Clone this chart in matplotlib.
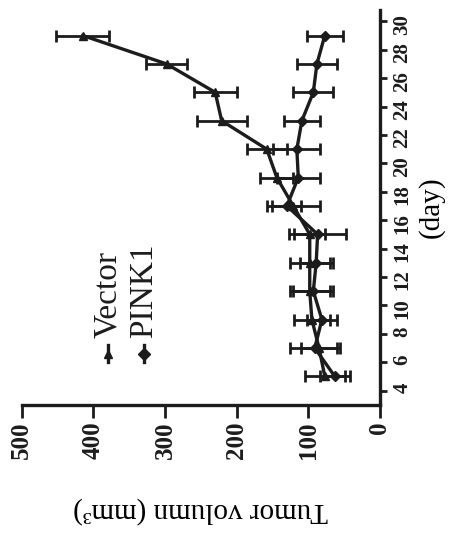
import matplotlib
matplotlib.use("Agg")
import matplotlib.pyplot as plt

plt.rcParams["font.family"] = ["Liberation Serif", "DejaVu Serif"]

# Measurement days and tumour volumes (mm^3), mean and error
days = [5, 7, 9, 11, 13, 15, 17, 19, 21, 23, 25, 27, 29]
vector_mean = [77, 85, 95, 98, 98, 98, 121, 144, 158, 221, 230, 298, 415]
vector_err = [28, 25, 25, 28, 28, 22, 37, 23, 28, 35, 30, 28, 37]
pink1_mean = [63, 91, 81, 93, 89, 87, 130, 114, 116, 109, 93, 88, 77]
pink1_err = [21, 35, 21, 28, 23, 40, 20, 30, 33, 25, 28, 28, 25]

day_ticks = [4, 6, 8, 10, 12, 14, 16, 18, 20, 22, 24, 26, 28, 30]
volume_ticks = [0, 100, 200, 300, 400, 500]
series_names = ["Vector", "PINK1"]

ink = "#1c1c1c"

fig = plt.figure(figsize=(4.55, 5.53), dpi=100)
ax = fig.add_axes([0.048, 0.268, 0.787, 0.714])

# The chart is laid on its side: volume runs right-to-left, days bottom-to-top
ax.errorbar(vector_mean, days, xerr=vector_err, color=ink, lw=2.4,
            marker="^", ms=6, capsize=4, capthick=2, elinewidth=2)
ax.errorbar(pink1_mean, days, xerr=pink1_err, color=ink, lw=2.4,
            marker="D", ms=5, capsize=4, capthick=2, elinewidth=2)

ax.set_xlim(500, 0)
ax.set_ylim(3, 30.8)
ax.set_xticks(volume_ticks)
ax.set_yticks(day_ticks)
ax.yaxis.tick_right()
ax.yaxis.set_label_position("right")

for side in ("left", "top"):
    ax.spines[side].set_visible(False)
for side in ("bottom", "right"):
    ax.spines[side].set_linewidth(2.4)
    ax.spines[side].set_color(ink)

ax.tick_params(axis="x", length=9, width=2, color=ink, pad=3,
               labelsize=18, labelrotation=90, labelcolor=ink)
ax.tick_params(axis="y", length=5, width=2, color=ink, pad=4,
               labelsize=15, labelrotation=90, labelcolor=ink)
for lab in ax.get_xticklabels() + ax.get_yticklabels():
    lab.set_fontweight("bold")

ax.set_xlabel("Tumor volumn (mm³)", fontsize=21, rotation=180, labelpad=27)
ax.set_ylabel("(day)", fontsize=21, rotation=90, labelpad=4)

# Hand-built legend, turned with the rest of the chart
legend_items = [("^", 380), ("D", 330)]
for (mk, xpos), name in zip(legend_items, series_names):
    ax.plot([xpos, xpos], [6.0, 7.2], color=ink, lw=2.4, clip_on=False)
    ax.plot([xpos], [6.6], marker=mk, color=ink, ms=6, clip_on=False)
    ax.text(xpos, 7.7, name, rotation=90, fontsize=24, color=ink,
            ha="center", va="bottom")

fig.savefig("out.png", dpi=100)
